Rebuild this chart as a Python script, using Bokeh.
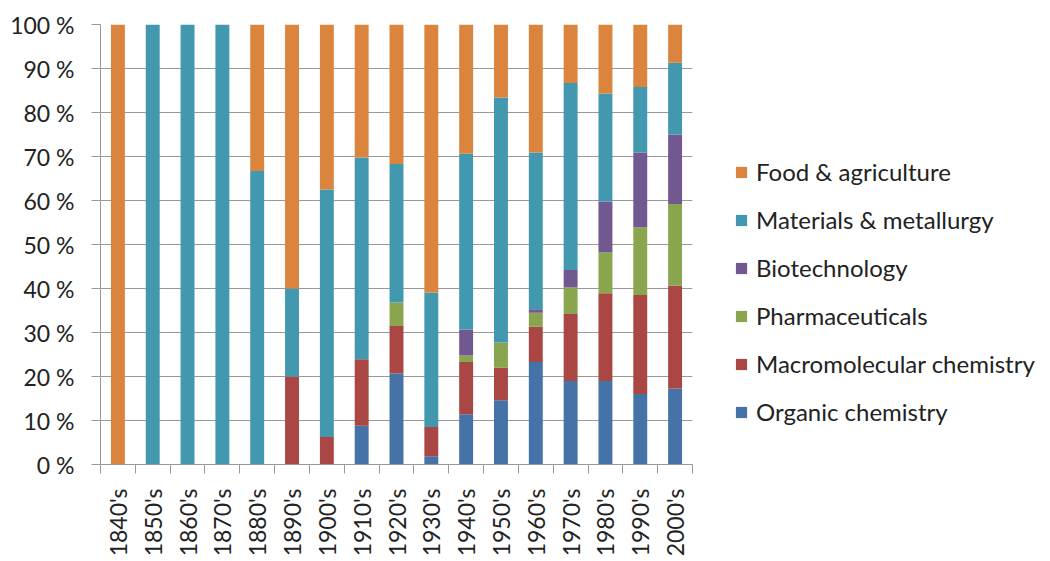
import numpy as np
from bokeh.plotting import figure
from bokeh.models import (ColumnDataSource, FixedTicker, Legend, LegendItem,
                          Range1d, CustomJSTickFormatter)
from bokeh.embed import file_html
from bokeh.resources import INLINE

decades = ["1840's", "1850's", "1860's", "1870's", "1880's", "1890's", "1900's",
           "1910's", "1920's", "1930's", "1940's", "1950's", "1960's", "1970's",
           "1980's", "1990's", "2000's"]

organic = [0, 0, 0, 0, 0, 0, 0, 8.8, 20.7, 1.9, 11.4, 14.6, 23.3, 19.0, 19.0, 16.0, 17.3]
macro = [0, 0, 0, 0, 0, 20, 6.25, 15.1, 10.8, 6.6, 11.9, 7.4, 8.0, 15.2, 19.9, 22.5, 23.3]
pharma = [0, 0, 0, 0, 0, 0, 0, 0, 5.3, 0, 1.5, 5.7, 3.2, 6.0, 9.3, 15.4, 18.6]
biotech = [0, 0, 0, 0, 0, 0, 0, 0, 0, 0, 5.9, 0, 0.8, 4.0, 11.6, 17.0, 15.8]
materials = [0, 100, 100, 100, 66.7, 20, 56.25, 45.9, 31.5, 30.6, 39.9, 55.7, 35.6, 42.5, 24.5, 14.9, 16.3]
food = [100, 0, 0, 0, 33.3, 60, 37.5, 30.2, 31.7, 60.9, 29.4, 16.6, 29.1, 13.3, 15.7, 14.2, 8.7]

series_names = ["Organic chemistry", "Macromolecular chemistry", "Pharmaceuticals",
                "Biotechnology", "Materials & metallurgy", "Food & agriculture"]
series_vals = [organic, macro, pharma, biotech, materials, food]
colors = ["#4572A7", "#AA4643", "#89A54E", "#71588F", "#4198AF", "#DB843D"]

# normalise to 100 %
tot = np.sum(np.array(series_vals, dtype=float), axis=0)
xs = np.arange(len(decades))
data = {"x": xs}
keys = []
for i, vals in enumerate(series_vals):
    k = "s%d" % i
    keys.append(k)
    data[k] = np.array(vals, dtype=float) / tot * 100.0
source = ColumnDataSource(data)

FONT = "Lato"
FS = "23px"

p = figure(frame_width=592, frame_height=440, output_backend="svg", toolbar_location=None,
           x_range=Range1d(-0.5, len(decades) - 0.5), y_range=Range1d(0, 100))
p.min_border_left = 100
p.min_border_right = 350
p.min_border_top = 24
p.min_border_bottom = 95
p.outline_line_color = None
p.background_fill_color = "white"
p.border_fill_color = "white"

renderers = p.vbar_stack(keys, x="x", width=0.4, source=source, color=colors,
                         line_color=None)

# axes
p.xaxis.ticker = FixedTicker(ticks=list(xs), minor_ticks=list(np.arange(len(decades) + 1) - 0.5))
p.xaxis.major_label_overrides = {int(i): d for i, d in enumerate(decades)}
p.xaxis.major_tick_out = 0
p.xaxis.major_tick_in = 0
p.xaxis.minor_tick_out = 9
p.xaxis.minor_tick_in = 0
p.xaxis.minor_tick_line_color = "#999999"
p.xaxis.axis_line_color = "#999999"
p.xaxis.major_label_orientation = np.pi / 2
p.xaxis.major_label_standoff = 15
p.xaxis.major_label_text_font = FONT
p.xaxis.major_label_text_font_size = FS
p.xaxis.major_label_text_color = "#222222"

p.yaxis.ticker = FixedTicker(ticks=list(range(0, 101, 10)))
p.yaxis.formatter = CustomJSTickFormatter(code="return tick.toFixed(0) + ' %';")
p.yaxis.major_tick_out = 9
p.yaxis.major_tick_in = 0
p.yaxis.minor_tick_line_color = None
p.yaxis.major_tick_line_color = "#999999"
p.yaxis.axis_line_color = "#999999"
p.yaxis.major_label_standoff = 17
p.yaxis.major_label_text_font = FONT
p.yaxis.major_label_text_font_size = FS
p.yaxis.major_label_text_color = "#222222"

p.xgrid.grid_line_color = None
p.ygrid.grid_line_color = "#999999"
p.ygrid.grid_line_width = 1

items = [LegendItem(label=series_names[i], renderers=[renderers[i]]) for i in range(5, -1, -1)]
legend = Legend(items=items, location=(42, 38), orientation="vertical")
legend.padding = 0
legend.margin = 0
legend.border_line_color = None
legend.background_fill_alpha = 0
legend.glyph_width = 14
legend.glyph_height = 14
legend.label_standoff = 8
legend.spacing = 19
legend.label_text_font = FONT
legend.label_text_font_size = "24px"
legend.label_text_color = "#222222"
p.add_layout(legend, "right")

open("out.html", "w").write(file_html(p, INLINE))
